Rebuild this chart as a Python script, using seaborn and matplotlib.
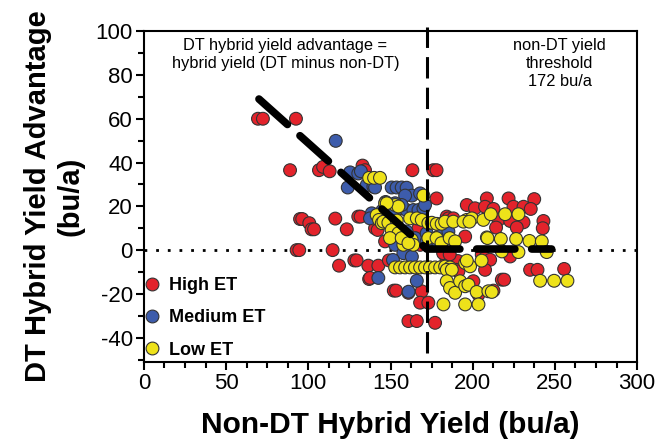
import numpy as np
import pandas as pd
import matplotlib
matplotlib.use("Agg")
import matplotlib.pyplot as plt
from matplotlib.ticker import MultipleLocator
import seaborn as sns

# DT yield advantage vs non-DT yield
high_x = [69.4, 72.4, 92.5, 88.9, 106.5, 109, 113, 133, 134.5,
          95, 96.3, 100.6, 102, 103.5, 116.4, 123.4, 130.4, 131.8, 140.6, 142.2,
          92.9, 94.5, 114.8, 118.7, 128, 129.4, 136.5, 142.6, 149, 137, 152, 153.4,
          160.9, 169, 168, 173, 160.9, 166, 177.1,
          163.3, 176, 178, 178, 196.4, 201.4, 208.6, 209.5, 195.4, 184.2, 185.2, 188.2,
          146.7, 167, 168, 184, 188, 191, 190.3, 191.3, 205.5, 203.5, 200.4, 212.6,
          217.7, 219.1, 234.9, 239.4, 255.6, 207.5, 210.6, 222.8, 207.5,
          207.5, 212.6, 221.8, 224.8, 230.9, 237.4, 235.3, 215.7, 222.8, 230.9,
          226.8, 214.2, 243, 242.6, 179.1, 137.6, 182, 186]
high_y = [60, 60, 60, 36.5, 36.5, 38, 36, 38.6, 36.5,
          14.2, 14.2, 12.3, 9.5, 9.5, 14.4, 9.5, 15.3, 15.3, 10, 9.2,
          0, 0, 0, -7.1, -4.7, -4.7, -7.1, -7.1, -4.7, -13.2, -18.5, -18.5,
          -19.5, -18.8, -24, -24, -32.4, -32.4, -33.2,
          36.5, 36.5, 36.5, 23.6, 20.6, 19.1, 23.6, 18.3, 6.2, 15.3, 14.5, 14.5,
          4, 10, 2.4, -5, -4.4, -5, -9, -9.7, -2.1, -20.3, -14.2, -18.5,
          -13.5, -13.5, -9, -9, -8.6, -3.6, -4.4, -2.9, -9,
          19.8, 18.8, 23.6, 19.8, 19.8, 23.3, 18.8, 13.8, 13.3, 12.7,
          10.3, 10.3, 13.3, 10, 6.2, -12.7, -1.4, -2]

med_x = [116.7, 125.4, 124, 130.4, 132, 135.5, 139.6, 140.6, 150.7, 153.7,
         156.8, 159.8, 163, 158.9, 168, 138.6, 137.5, 149.7, 152.8, 156.8,
         159.8, 163.9, 167, 170, 156.8, 152.8, 171, 151.7, 159.8, 152.8,
         165, 172, 172, 157.8, 142.6, 166, 182.2, 185.2, 147, 145,
         151.5, 163, 179, 161]
med_y = [49.9, 35.5, 28.6, 35, 36, 29.7, 29, 28.6, 28.6, 28.6,
         28.6, 28.5, 24.9, 24.9, 25.9, 16.8, 14.5, 18.3, 18.3, 19.1,
         18.3, 18.3, 18.3, 19.1, 20.6, 21.4, 20.6, 6.2, 8.5, 2.4,
         5.5, 7.7, 4, -1.4, -12.7, -14, 9.2, 8.5, 22, 18,
         -4.5, -3, 3.5, -19]

low_x = [137, 140, 143.6, 146.7, 152.8, 154.8, 147.7, 141.6, 143, 144.7,
         145.7, 148.7, 153.8, 161.9, 166, 169, 173, 175.1, 178.1, 181.1,
         183.2, 188.2, 196.4, 199.5, 206.5, 194.4, 198, 170,
         150.7, 154.8, 157.8, 162.9, 149.7, 156.8, 163.9, 160.9,
         173, 178, 181, 186, 189.3, 208.6, 211, 219.7, 227.8,
         209, 217.1, 226.4, 234.5, 242, 217.7, 227.8, 245,
         152.8, 155.8, 158.9, 161.9, 164.9, 168, 171, 174, 177.1, 180.2, 183.2, 186.2,
         184.2, 187.3, 195.4, 198.4, 196.4, 205.4,
         184.2, 186.2, 189.3, 192.3, 195.4, 197.4, 202.4, 209.5, 211.6,
         182.2, 195.4, 203.5, 241, 249.5, 257.6]
low_y = [33, 33, 33, 21.4, 20.6, 19.9, 21.4, 16, 13.8, 12.3,
         13, 12.5, 13.5, 14.5, 14.5, 13.8, 12.3, 12.5, 12, 12,
         13, 13, 13.8, 14.5, 13.8, 13, 13, 24.9,
         9.2, 7.7, 2.4, 4.7, 5.5, 5.5, 2.4, 3.2,
         5.5, 5.5, 3.2, 5.5, 4, 5.8, 16.4, 16.4, 16.4,
         5.5, 5.1, 5.1, 4.2, 4, -0.6, -0.9, -0.9,
         -7.9, -7.9, -7.9, -7.9, -7.9, -7.9, -7.9, -7.9, -7.9, -7.9, -7.5, -7.9,
         -9, -9, -5.9, -7.4, -4.8, -4.8,
         -14.2, -17.3, -19.5, -14.2, -16.5, -15.8, -19.1, -18.8, -19.1,
         -24.8, -24.8, -24.8, -14, -14, -14]

# linear-plateau fit, break at the 172 bu/a threshold
fit_x = [70, 172, 248]
fit_y = [69, 0.5, 0.5]
threshold = 172

groups = ["High ET", "Medium ET", "Low ET"]
colors = {"High ET": "#E3232B", "Medium ET": "#3D5CAB", "Low ET": "#EEE21A"}

df = pd.concat([
    pd.DataFrame({"x": high_x, "y": high_y, "ET": groups[0]}),
    pd.DataFrame({"x": med_x, "y": med_y, "ET": groups[1]}),
    pd.DataFrame({"x": low_x, "y": low_y, "ET": groups[2]}),
], ignore_index=True)

sns.set_style("ticks", {"axes.edgecolor": "black", "xtick.color": "black",
                        "ytick.color": "black", "text.color": "black",
                        "axes.labelcolor": "black"})
plt.rcParams["font.family"] = ["Liberation Sans", "DejaVu Sans"]
plt.rcParams["axes.unicode_minus"] = False

fig = plt.figure(figsize=(6.63, 4.45), dpi=100)
ax = fig.add_axes([0.217, 0.187, 0.744, 0.743])

ax.axhline(0, color="black", lw=2, ls=(0, (1, 3.2)), zorder=1)
sns.scatterplot(data=df, x="x", y="y", hue="ET", hue_order=groups, palette=colors,
                s=85, edgecolor="#333333", linewidth=0.8, ax=ax, zorder=2)
ax.plot(fit_x, fit_y, color="black", lw=5.5, ls=(0, (5, 2.2)),
        solid_capstyle="round", dash_capstyle="round", zorder=3)
ax.plot([threshold, threshold], [-47, 102], color="black", lw=2.2,
        ls=(0, (7, 3)), clip_on=False, zorder=4)

ax.text(86, 97, "DT hybrid yield advantage =\nhybrid yield (DT minus non-DT)",
        ha="center", va="top", fontsize=11.8, linespacing=1.25)
ax.text(253, 97, "non-DT yield\nthreshold\n172 bu/a",
        ha="center", va="top", fontsize=11.8, linespacing=1.25)

ax.set_xlim(0, 300)
ax.set_ylim(-51, 100)
ax.xaxis.set_major_locator(MultipleLocator(50))
ax.xaxis.set_minor_locator(MultipleLocator(12.5))
ax.yaxis.set_major_locator(MultipleLocator(20))
ax.yaxis.set_minor_locator(MultipleLocator(10))
ax.set_yticks(range(-40, 101, 20))
ax.tick_params(axis="both", which="major", labelsize=16, length=6, width=1.5, pad=2)
ax.tick_params(axis="both", which="minor", length=4, width=1.5)
for sp in ax.spines.values():
    sp.set_linewidth(1.5)

ax.set_xlabel("Non-DT Hybrid Yield (bu/a)", fontsize=21.5, fontweight="bold", labelpad=12)
ax.set_ylabel("DT Hybrid Yield Advantage\n(bu/a)", fontsize=21, fontweight="bold", labelpad=8)

leg = ax.legend(loc="lower left", bbox_to_anchor=(-0.045, -0.04), frameon=False,
                prop={"weight": "bold", "size": 13}, handletextpad=0.1,
                labelspacing=0.85, handlelength=1.6, markerscale=1.0)
for h in leg.legend_handles:
    h.set_markeredgecolor("#333333")

fig.savefig("out.png", dpi=100)
